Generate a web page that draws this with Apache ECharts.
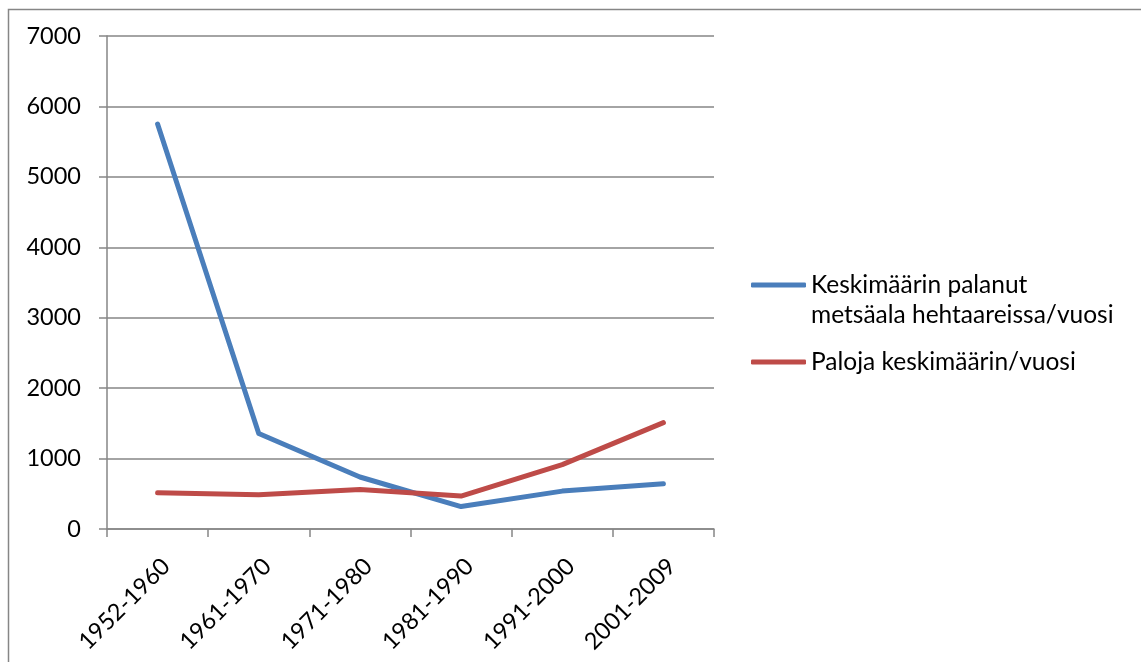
<!DOCTYPE html>
<html>
<head>
<meta charset="utf-8">
<title>Metsäpalot</title>
<script src="https://cdn.jsdelivr.net/npm/echarts@6/dist/echarts.min.js"></script>
<style>
  html, body { margin: 0; padding: 0; background: #ffffff; }
  #chart { width: 1141px; height: 662px; }
</style>
</head>
<body>
<div id="chart"></div>
<script>
// Decades on the category axis
const periods = ['1952-1960', '1961-1970', '1971-1980', '1981-1990', '1991-2000', '2001-2009'];

// Average burnt forest area, hectares per year
const burntArea = [5750, 1357, 738, 319, 538, 643];

// Average number of fires per year
const fireCount = [514, 486, 562, 467, 914, 1510];

const seriesNames = ['Keskimäärin palanut metsäala hehtaareissa/vuosi', 'Paloja keskimäärin/vuosi'];
// The leading blank line keeps the legend swatch level with the first text line
const legendLabels = {
  'Keskimäärin palanut metsäala hehtaareissa/vuosi': '\nKeskimäärin palanut\nmetsäala hehtaareissa/vuosi',
  'Paloja keskimäärin/vuosi': 'Paloja keskimäärin/vuosi'
};

const axisGray = '#868686';
const fontFamily = 'Lato, "Open Sans", sans-serif';

const chart = echarts.init(document.getElementById('chart'), null, { renderer: 'canvas' });

chart.setOption({
  animation: false,
  backgroundColor: '#ffffff',
  textStyle: { fontFamily: fontFamily },
  graphic: [{
    type: 'rect',
    shape: { x: 8.5, y: 9.5, width: 1200, height: 800 },
    style: { fill: 'none', stroke: axisGray, lineWidth: 1.5 },
    silent: true
  }],
  grid: { left: 107, right: 427, top: 36, bottom: 133, containLabel: false },
  legend: {
    orient: 'vertical',
    left: 751,
    top: 240,
    padding: 0,
    itemWidth: 55,
    itemHeight: 5,
    itemGap: 17,
    icon: 'roundRect',
    data: seriesNames,
    formatter: name => legendLabels[name],
    textStyle: {
      fontFamily: fontFamily,
      fontSize: 24.5,
      color: '#000000',
      lineHeight: 30
    },
    itemStyle: { borderWidth: 0 }
  },
  xAxis: {
    type: 'category',
    data: periods,
    boundaryGap: true,
    axisLine: { show: true, lineStyle: { color: axisGray, width: 1.5 } },
    axisTick: { show: true, length: 8, lineStyle: { color: axisGray, width: 1.5 } },
    axisLabel: {
      rotate: 45,
      margin: 25,
      verticalAlign: 'top',
      fontFamily: fontFamily,
      fontSize: 23.5,
      color: '#000000'
    },
    splitLine: { show: false }
  },
  yAxis: {
    type: 'value',
    min: 0,
    max: 7000,
    interval: 1000,
    axisLine: { show: true, lineStyle: { color: axisGray, width: 1.5 } },
    axisTick: { show: true, inside: false, length: 8, lineStyle: { color: axisGray, width: 1.5 } },
    axisLabel: {
      margin: 26,
      formatter: v => String(v),
      fontFamily: fontFamily,
      fontSize: 23.5,
      color: '#000000'
    },
    splitLine: { show: true, lineStyle: { color: axisGray, width: 1.5 } }
  },
  series: [
    {
      name: seriesNames[0],
      type: 'line',
      data: burntArea,
      showSymbol: false,
      symbol: 'none',
      color: '#4A7EBB',
      lineStyle: { color: '#4A7EBB', width: 5, cap: 'round', join: 'round' }
    },
    {
      name: seriesNames[1],
      type: 'line',
      data: fireCount,
      showSymbol: false,
      symbol: 'none',
      color: '#BE4B48',
      lineStyle: { color: '#BE4B48', width: 5, cap: 'round', join: 'round' }
    }
  ]
});
</script>
</body>
</html>
